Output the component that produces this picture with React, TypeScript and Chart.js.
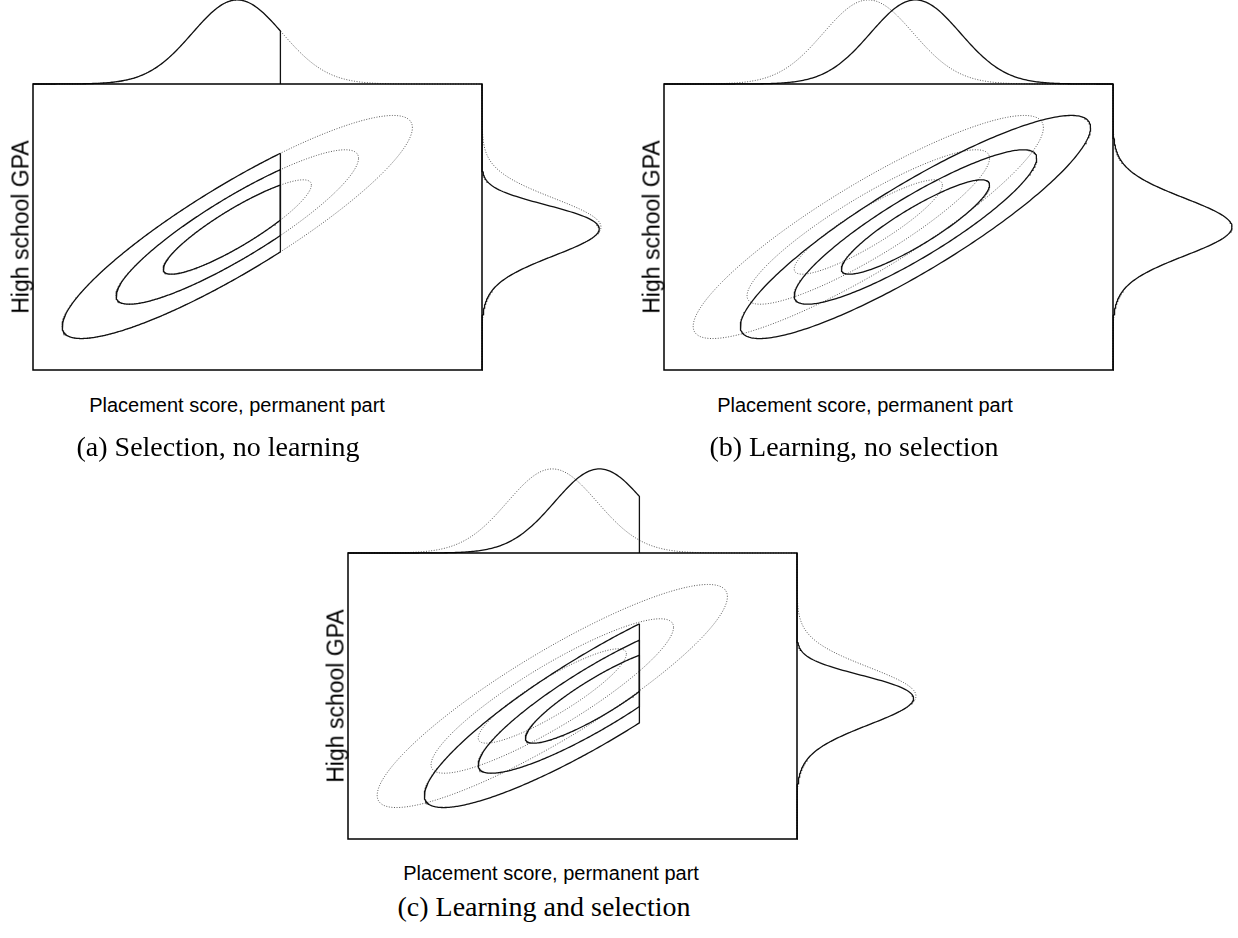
import React, { useEffect, useRef } from "react";
import { Chart, registerables } from "chart.js";

Chart.register(...registerables);

// ---- Data (standardised units) ----
const panelCaptions = ["(a) Selection, no learning", "(b) Learning, no selection", "(c) Learning and selection"];
const xAxisTitle = "Placement score, permanent part";
const yAxisTitle = "High school GPA";
const placementRange = [-4.55, 5.45];
const gpaRange = [-5, 5];
const contourRadii = [1.65, 2.7, 3.9];
const scoreGpaCorrelation = [0.89];
const learningShift = [0, 1.05, 1.05];
const selectionCutoff: (number | null)[] = [0.96, null, 1.94];
const marginalPeakTop = [2.94]; // GPA units above the frame
const marginalPeakRight = [2.65]; // placement units right of the frame

// ---- helpers ----
const rho = scoreGpaCorrelation[0];
const sRho = Math.sqrt(1 - rho * rho);
const phiRel = (z: number) => Math.exp(-0.5 * z * z);
function erf(x: number) {
  const s = x < 0 ? -1 : 1;
  const a = Math.abs(x);
  const t = 1 / (1 + 0.3275911 * a);
  const y = 1 - (((((1.061405429 * t - 1.453152027) * t) + 1.421413741) * t - 0.284496736) * t + 0.254829592) * t * Math.exp(-a * a);
  return s * y;
}
const Phi = (z: number) => 0.5 * (1 + erf(z / Math.SQRT2));

function contour(r: number, mx: number, cut: number | null) {
  let t0 = 0;
  let t1 = 2 * Math.PI;
  let truncated = false;
  if (cut !== null && (cut - mx) / r < 1) {
    const a = Math.acos(Math.max(-1, (cut - mx) / r));
    t0 = a;
    t1 = 2 * Math.PI - a;
    truncated = true;
  }
  const n = 300;
  const pts: { x: number; y: number }[] = [];
  for (let i = 0; i <= n; i++) {
    const t = t0 + ((t1 - t0) * i) / n;
    pts.push({ x: mx + r * Math.cos(t), y: r * (rho * Math.cos(t) + sRho * Math.sin(t)) });
  }
  if (truncated) pts.push(pts[0]);
  return pts;
}

function topMarginal(mx: number, cut: number | null) {
  const top = gpaRange[1];
  const h = marginalPeakTop[0];
  const n = 300;
  const pts: { x: number; y: number }[] = [];
  for (let i = 0; i <= n; i++) {
    const x = placementRange[0] + ((placementRange[1] - placementRange[0]) * i) / n;
    if (cut !== null && x > cut) break;
    pts.push({ x, y: top + h * phiRel(x - mx) });
  }
  if (cut !== null) {
    pts.push({ x: cut, y: top + h * phiRel(cut - mx) });
    pts.push({ x: cut, y: top });
  }
  return pts;
}

function rightMarginal(mx: number, cut: number | null) {
  const right = placementRange[1];
  const w = marginalPeakRight[0];
  const n = 300;
  const pts: { x: number; y: number }[] = [];
  for (let i = 0; i <= n; i++) {
    const y = gpaRange[0] + ((gpaRange[1] - gpaRange[0]) * i) / n;
    const sel = cut === null ? 1 : Phi((cut - mx - rho * y) / sRho);
    pts.push({ x: right + w * phiRel(y) * sel, y });
  }
  return pts;
}

const solid = (data: any) => ({
  data,
  showLine: true,
  pointRadius: 0,
  borderColor: "#111",
  borderWidth: 1.3,
  tension: 0,
  clip: false as any,
});
const dotted = (data: any) => ({
  data,
  showLine: true,
  pointRadius: 0,
  borderColor: "#555",
  borderWidth: 1,
  borderDash: [1, 1.6],
  tension: 0,
  clip: false as any,
});

function buildDatasets(idx: number) {
  const shift = learningShift[idx];
  const cut = selectionCutoff[idx];
  const ds: any[] = [];
  // solid = observed distribution
  contourRadii.forEach((r) => ds.push(solid(contour(r, shift, cut))));
  ds.push(solid(topMarginal(shift, cut)));
  ds.push(solid(rightMarginal(shift, cut)));
  // dotted = underlying distribution
  contourRadii.forEach((r) => ds.push(dotted(contour(r, 0, null))));
  ds.push(dotted(topMarginal(0, null)));
  ds.push(dotted(rightMarginal(0, null)));
  return ds;
}

const framePlugin = {
  id: "frame",
  afterDatasetsDraw(chart: any) {
    const { ctx, chartArea: a } = chart;
    ctx.save();
    ctx.strokeStyle = "#000";
    ctx.lineWidth = 1.5;
    ctx.strokeRect(a.left, a.top, a.right - a.left, a.bottom - a.top);
    ctx.restore();
  },
};

type PanelProps = {
  idx: number;
  left: number;
  top: number;
  width: number;
  height: number;
  pad: { left: number; top: number; right: number; bottom: number };
};

function Panel({ idx, left, top, width, height, pad }: PanelProps) {
  const ref = useRef<HTMLCanvasElement | null>(null);
  useEffect(() => {
    if (!ref.current) return;
    const chart = new Chart(ref.current, {
      type: "scatter",
      data: { datasets: buildDatasets(idx) },
      options: {
        responsive: false,
        animation: false,
        events: [],
        layout: { padding: pad },
        plugins: { legend: { display: false }, tooltip: { enabled: false }, title: { display: false } },
        scales: {
          x: { type: "linear", min: placementRange[0], max: placementRange[1], display: false },
          y: { type: "linear", min: gpaRange[0], max: gpaRange[1], display: false },
        },
      },
      plugins: [framePlugin],
    });
    return () => chart.destroy();
  }, []);
  return (
    <canvas
      ref={ref}
      width={width}
      height={height}
      style={{ position: "absolute", left, top, width, height }}
    />
  );
}

const sans = '"Liberation Sans", Arial, Helvetica, sans-serif';
const serif = '"Liberation Serif", "Times New Roman", serif';

function Label({ x, y, text, font, size, rotate }: { x: number; y: number; text: string; font: string; size: number; rotate?: boolean }) {
  return (
    <div
      style={{
        position: "absolute",
        left: x,
        top: y,
        transform: `translate(-50%, -50%)${rotate ? " rotate(-90deg)" : ""}`,
        whiteSpace: "nowrap",
        fontFamily: font,
        fontSize: size,
        color: "#000",
        lineHeight: 1,
      }}
    >
      {text}
    </div>
  );
}

export default function App() {
  return (
    <div style={{ position: "absolute", left: 0, top: 0, width: 1238, height: 938, background: "#fff", overflow: "hidden" }}>
      <Panel idx={0} left={0} top={0} width={620} height={380} pad={{ left: 33, top: 84, right: 138, bottom: 10 }} />
      <Panel idx={1} left={630} top={0} width={608} height={380} pad={{ left: 34, top: 84, right: 125, bottom: 10 }} />
      <Panel idx={2} left={310} top={460} width={640} height={390} pad={{ left: 38, top: 93, right: 153, bottom: 11 }} />

      <Label x={21} y={227} text={yAxisTitle} font={sans} size={23} rotate />
      <Label x={652} y={227} text={yAxisTitle} font={sans} size={23} rotate />
      <Label x={336} y={696} text={yAxisTitle} font={sans} size={23} rotate />

      <Label x={237} y={405} text={xAxisTitle} font={sans} size={20} />
      <Label x={865} y={405} text={xAxisTitle} font={sans} size={20} />
      <Label x={551} y={873} text={xAxisTitle} font={sans} size={20} />

      <Label x={218} y={447} text={panelCaptions[0]} font={serif} size={28} />
      <Label x={854} y={447} text={panelCaptions[1]} font={serif} size={28} />
      <Label x={544} y={907} text={panelCaptions[2]} font={serif} size={28} />
    </div>
  );
}
